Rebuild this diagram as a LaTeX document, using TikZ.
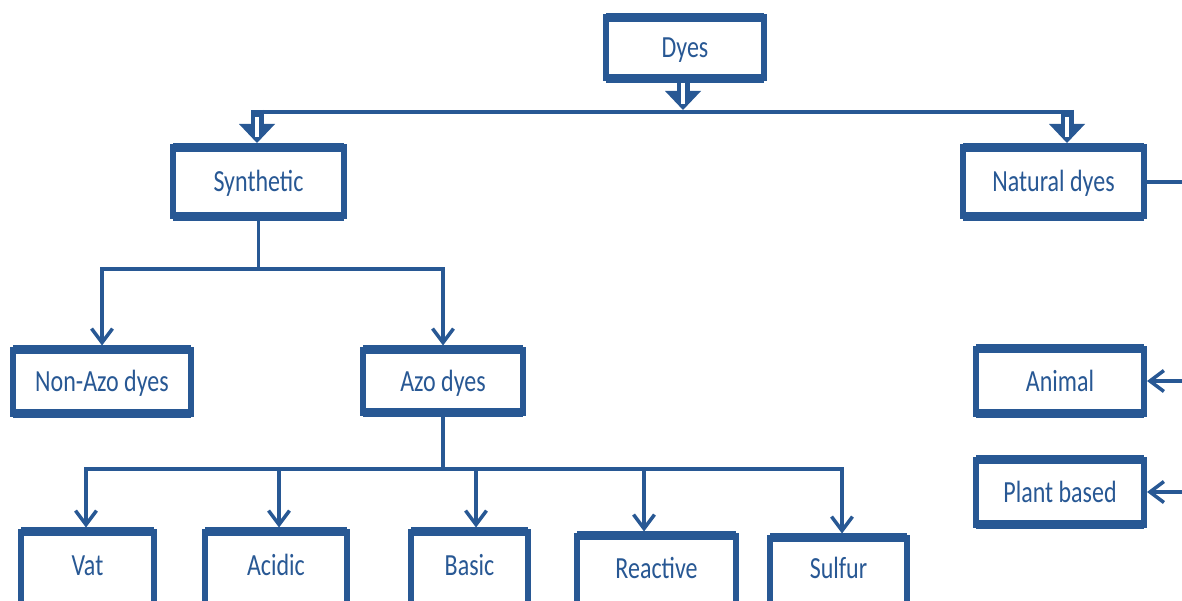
\documentclass[tikz,border=0pt]{standalone}
\usepackage{graphicx}
\usepackage{fontspec}
\setmainfont{Carlito}
\usetikzlibrary{arrows.meta,calc}
\definecolor{dblue}{RGB}{40,88,148}
\newcommand\T[1]{\scalebox{1}[1.28]{#1}}
\newcommand\dblarrow[2]{%
  \fill[dblue] ($(#2)+(-18,-19)$) -- (#2) -- ($(#2)+(18,-19)$) -- cycle;
  \draw[dblue, line width=13pt] ($(#1)+(0,-2)$) -- ($(#2)+(0,-18)$);
  \draw[white, line width=4pt] ($(#1)+(0,5)$) -- ($(#2)+(0,-6)$);
}
\tikzset{
  hbar/.style={draw=dblue, line width=9pt, -},
  box/.style={draw=dblue, line width=6pt, fill=white, inner sep=0pt, outer sep=0pt,
    text=dblue, font=\fontsize{24}{28}\selectfont, text height=20pt, text depth=0pt,
    append after command={(\tikzlastnode.north west) edge[hbar] (\tikzlastnode.north east)
      (\tikzlastnode.south west) edge[hbar] (\tikzlastnode.south east)}},
  leaf/.style={box, anchor=north, text depth=80pt},
  line/.style={draw=dblue, line width=3.5pt, line cap=rect},
  conn/.style={line, -{Straight Barb[length=14pt,width=21pt]}, shorten >=4pt},
}
\begin{document}
\begin{tikzpicture}[x=1pt,y=-1pt]
\useasboundingbox (0,0) rectangle (1182,601);
\clip (0,0) rectangle (1182,601);
\fill[white] (0,0) rectangle (1182,601);

% boxes
\node[box, minimum width=158pt, minimum height=61pt] (dyes) at (685,48) {\T{Dyes}};
\node[box, minimum width=171pt, minimum height=69pt] (syn) at (258.5,182) {\T{Synthetic}};
\node[box, minimum width=181pt, minimum height=69pt] (nat) at (1053.5,182) {\T{Natural dyes}};
\node[box, minimum width=178pt, minimum height=64pt] (nonazo) at (102,381.5) {\T{Non-Azo dyes}};
\node[box, minimum width=160pt, minimum height=63pt] (azo) at (443,381) {\T{Azo dyes}};
\node[box, minimum width=168pt, minimum height=65pt] (animal) at (1060,381) {\T{Animal}};
\node[box, minimum width=168pt, minimum height=65pt] (plant) at (1060,492) {\T{Plant based}};
\node[leaf, minimum width=133pt, text height=43.5pt] (vat) at (87.5,531.5) {\T{Vat}};
\node[leaf, minimum width=142pt, text height=43.5pt] (acidic) at (276,531.5) {\T{Acidic}};
\node[leaf, minimum width=117pt, text height=43.5pt] (basic) at (469.5,531.5) {\T{Basic}};
\node[leaf, minimum width=159pt, text height=42.5pt] (reactive) at (656.5,535.5) {\T{Reactive}};
\node[leaf, minimum width=137pt, text height=40.5pt] (sulfur) at (838.5,537.5) {\T{Sulfur}};

% top level
\coordinate (busL) at (257,112);
\coordinate (busR) at (1067,112);
\draw[line, line width=4pt, line cap=butt] (busL) -- (busR);
\coordinate (tipD) at (683,110);
\coordinate (tipS) at ($(busL |- syn.north)+(0,-4.5)$);
\coordinate (tipN) at ($(busR |- nat.north)+(0,-4.5)$);
\dblarrow{dyes.south -| tipD}{tipD}
\dblarrow{busL}{tipS}
\dblarrow{busR}{tipN}

% synthetic branch
\coordinate (h1) at (0,269);
\draw[line] (syn.south) -- (syn.south |- h1);
\draw[conn] (syn.south |- h1) -| (nonazo.north);
\draw[conn] (syn.south |- h1) -| (azo.north);

% azo branch
\coordinate (h2) at (0,469);
\coordinate (ax1) at (86,469);
\coordinate (ax2) at (279,469);
\coordinate (ax3) at (476,469);
\coordinate (ax4) at (644,469);
\coordinate (ax5) at (842,469);
\draw[line] (azo.south) -- (azo.south |- h2);
\draw[line] (ax1) -- (ax5);
\draw[conn] (ax1) -- (ax1 |- vat.north);
\draw[conn] (ax2) -- (ax2 |- acidic.north);
\draw[conn] (ax3) -- (ax3 |- basic.north);
\draw[conn] (ax4) -- (ax4 |- reactive.north);
\draw[conn] (ax5) -- (ax5 |- sulfur.north);

% natural branch (continues off the right edge)
\coordinate (rE) at (1190,0);
\draw[line] (nat.east) -- (nat.east -| rE);
\draw[conn, shorten >=3pt] (animal.east -| rE) -- (animal.east);
\draw[conn, shorten >=3pt] (plant.east -| rE) -- (plant.east);
\end{tikzpicture}
\end{document}
